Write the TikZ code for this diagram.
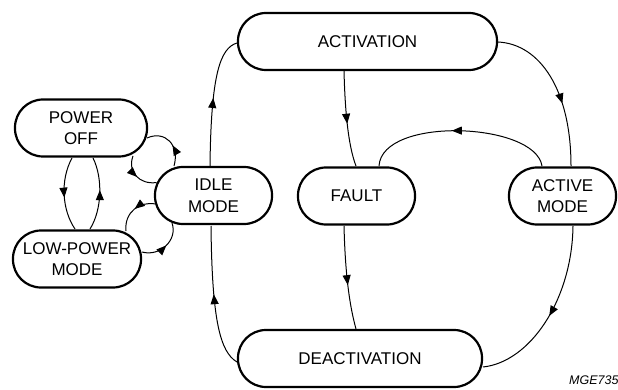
\documentclass[tikz,border=0pt]{standalone}
\usepackage{fontspec}
\setmainfont{Liberation Sans}
\usetikzlibrary{arrows.meta,decorations.markings}
\begin{document}
\begin{tikzpicture}[x=1pt,y=-1pt,
  state/.style={draw, line width=2.2pt, rounded corners=28pt, minimum height=57pt,
    inner sep=0pt, align=center, font=\fontsize{17}{21.5}\selectfont},
  conn/.style={line width=1pt},
  marr/.style={postaction={decorate}, decoration={markings,
    mark=at position #1 with {\arrow{Triangle[length=10pt,width=8pt]}}}}]
\useasboundingbox (0,0) rectangle (618,390);

\node[state, minimum width=259pt] (act) at (367.5,41.5) {ACTIVATION};
\node[state, minimum width=244pt] (deact) at (360,358.5) {DEACTIVATION};
\node[state, minimum width=117pt] (fault) at (356.5,196) {FAULT};
\node[state, minimum width=107pt] (active) at (562.5,196) {ACTIVE\\MODE};
\node[state, minimum width=117pt] (idle) at (213.5,195.5) {IDLE\\MODE};
\node[state, minimum width=132pt] (poff) at (81,128) {POWER\\OFF};
\node[state, minimum width=128pt] (lowp) at (77,259) {LOW-POWER\\MODE};

\node[anchor=base west, inner sep=0pt, font=\fontsize{12.5}{14}\selectfont\itshape] (lbl) at (569,384) {MGE735};

% idle -> activation
\draw[conn, marr=0.52] ([shift={(-3.5,-29.5)}]idle.center) .. controls (211,75) and (220,48) .. ([shift={(-130.5,1.5)}]act.center);
% deactivation -> idle
\draw[conn, marr=0.52] ([shift={(-123,3.5)}]deact.center) .. controls (220,352) and (212,320) .. ([shift={(-2.5,30.5)}]idle.center);
% activation -> fault
\draw[conn, marr=0.55] ([shift={(-23.5,29.5)}]act.center) .. controls (345,110) and (348,145) .. ([shift={(-0.5,-30)}]fault.center);
% fault -> deactivation
\draw[conn, marr=0.57] ([shift={(-12.5,30)}]fault.center) .. controls (345,265) and (348,300) .. ([shift={(-4,-29.5)}]deact.center);
% activation -> active mode
\draw[conn, marr=0.6] ([shift={(130.5,0.5)}]act.center) .. controls (540,44) and (571,90) .. ([shift={(8.5,-30)}]active.center);
% active mode -> deactivation
\draw[conn, marr=0.52] ([shift={(10.5,30)}]active.center) .. controls (572,300) and (530,362) .. ([shift={(123,8.5)}]deact.center);
% active mode -> fault
\draw[conn, marr=0.54] ([shift={(-20.5,-30)}]active.center) .. controls (535,122) and (382,116) .. ([shift={(22.5,-30)}]fault.center);
% power off -> low-power
\draw[conn, marr=0.55] ([shift={(-9,30)}]poff.center) .. controls (60,180) and (62,210) .. ([shift={(-2,-30)}]lowp.center);
% low-power -> power off
\draw[conn, marr=0.55] ([shift={(13,-30)}]lowp.center) .. controls (102,210) and (103,178) .. ([shift={(12,30)}]poff.center);
% idle -> power off
\draw[conn, marr=0.42] ([shift={(-39.5,-29.5)}]idle.center) .. controls (180,145) and (165,130) .. ([shift={(66,10)}]poff.center);
% power off -> idle
\draw[conn, marr=0.52] ([shift={(52,28)}]poff.center) .. controls (127,172) and (140,185) .. ([shift={(-57,-13)}]idle.center);
% idle -> low-power
\draw[conn, marr=0.47] ([shift={(-58,8.5)}]idle.center) .. controls (140,201) and (124,212) .. ([shift={(49,-28)}]lowp.center);
% low-power -> idle
\draw[conn, marr=0.52] ([shift={(65,-7)}]lowp.center) .. controls (160,257) and (178,240) .. ([shift={(-41.5,27.5)}]idle.center);
\end{tikzpicture}
\end{document}
